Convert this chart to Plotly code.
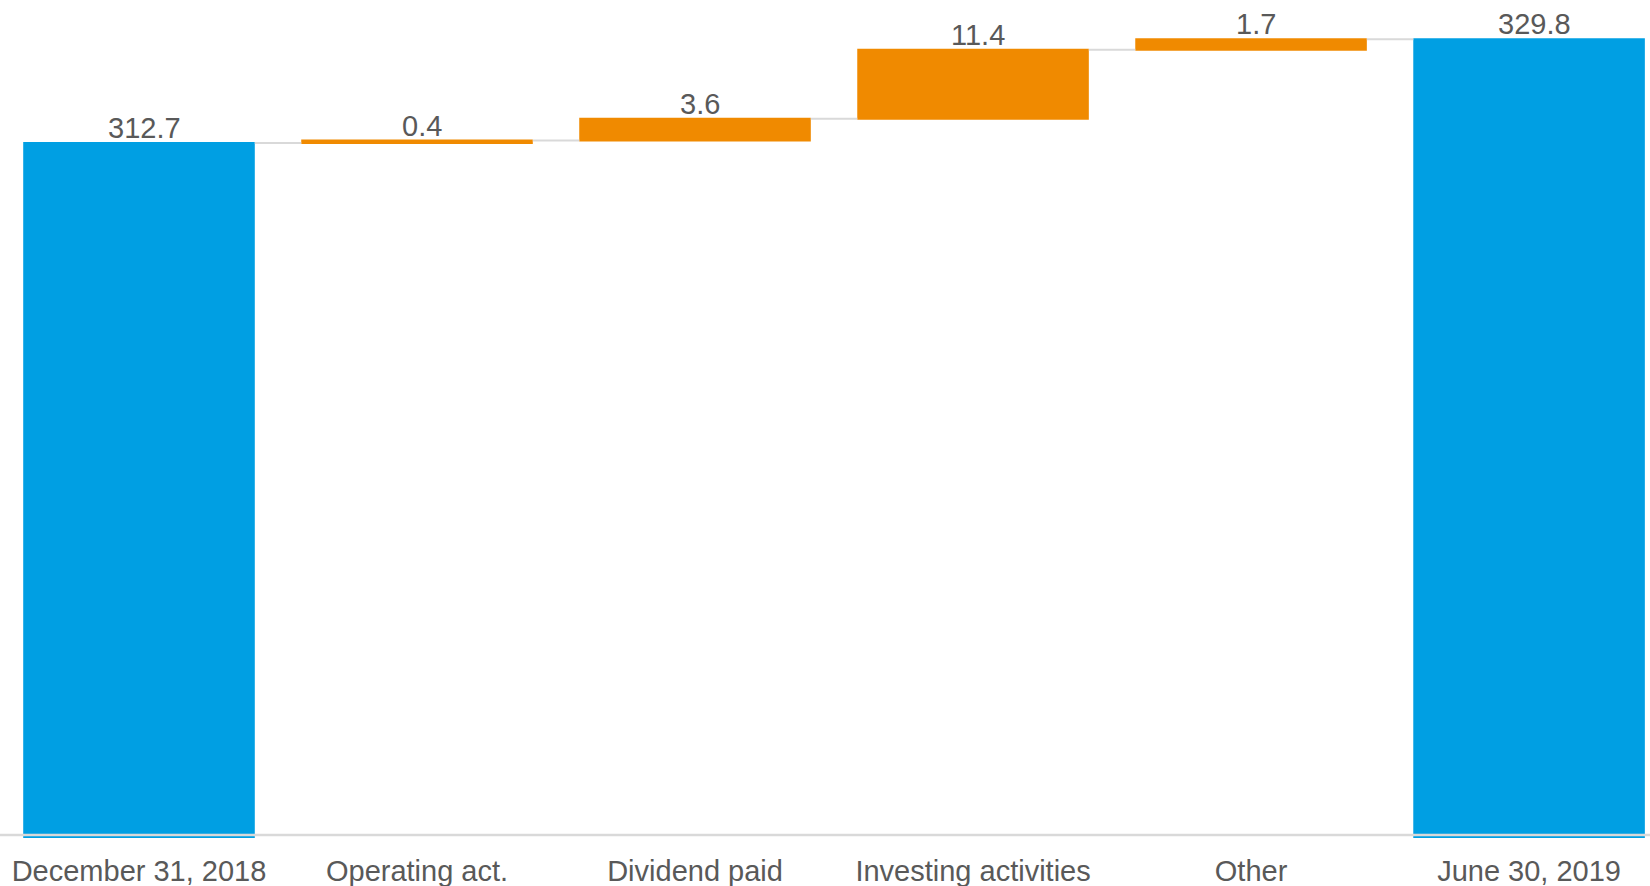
import plotly.graph_objects as go

categories = ["December 31, 2018", "Operating act.", "Dividend paid",
              "Investing activities", "Other", "June 30, 2019"]
measures = ["absolute", "relative", "relative", "relative", "relative", "total"]
values = [312.7, 0.4, 3.6, 11.4, 1.7, 0]

total = round(sum(values), 1)
labels = [f"{v:.1f}" for v in values[:-1]] + [f"{total:.1f}"]

# top of each bar (running total)
tops = []
run = 0.0
for m, v in zip(measures, values):
    if m == "absolute":
        run = v
    elif m == "relative":
        run += v
    tops.append(run)

BLUE = "#009FE3"
ORANGE = "#F08A00"
GRID = "#D9D9D9"
TXT = "#595959"
FONT = "Liberation Sans, Arial, sans-serif"

fig = go.Figure(go.Waterfall(
    x=categories,
    y=values,
    measure=measures,
    increasing=dict(marker=dict(color=ORANGE)),
    decreasing=dict(marker=dict(color=ORANGE)),
    totals=dict(marker=dict(color=BLUE)),
    connector=dict(line=dict(color=GRID, width=2), mode="between"),
    hoverinfo="skip",
))

for cat, top, lab in zip(categories, tops, labels):
    fig.add_annotation(x=cat, y=top, text=lab, showarrow=False,
                       yanchor="middle", yshift=15, xshift=5,
                       font=dict(size=29, color=TXT, family=FONT))

fig.add_shape(type="line", xref="paper", yref="y", x0=0, x1=1, y0=198.45, y1=198.45,
              line=dict(color=GRID, width=2.5), layer="above")

fig.update_layout(
    width=1650, height=886,
    margin=dict(l=0, r=0, t=0, b=48),
    paper_bgcolor="white", plot_bgcolor="white",
    showlegend=False,
    waterfallgap=0.167,
    font=dict(family=FONT, color=TXT, size=29),
    xaxis=dict(
        type="category",
        range=[-0.5, 5.435],
        showgrid=False, zeroline=False, showline=False,
        tickfont=dict(size=29, color=TXT, family=FONT),
        ticks="", ticklabelstandoff=13, fixedrange=True,
    ),
    yaxis=dict(
        range=[197.95, 336.3],
        showgrid=False, zeroline=False, showline=False,
        showticklabels=False, ticks="", fixedrange=True,
    ),
)

fig.write_html("out.html")
